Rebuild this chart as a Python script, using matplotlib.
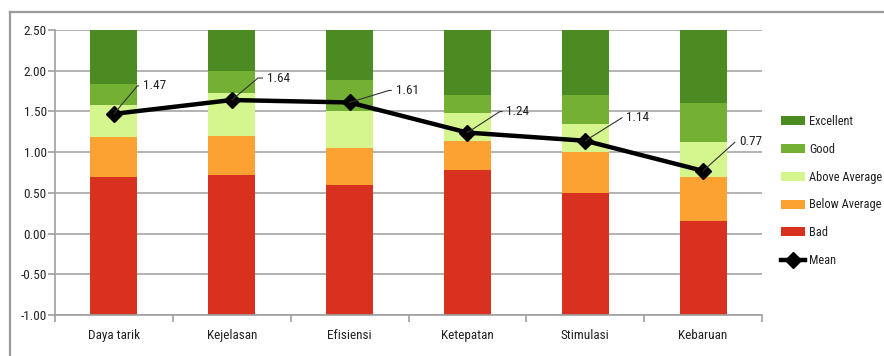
import matplotlib
matplotlib.use("Agg")
import matplotlib.pyplot as plt
from matplotlib.lines import Line2D
from matplotlib import font_manager
import numpy as np

# UEQ benchmark scales with the mean of each scale
categories = ["Daya tarik", "Kejelasan", "Efisiensi", "Ketepatan", "Stimulasi", "Kebaruan"]
bad_upper = [0.69, 0.72, 0.60, 0.78, 0.50, 0.16]
below_avg_upper = [1.18, 1.20, 1.05, 1.14, 1.00, 0.70]
above_avg_upper = [1.58, 1.73, 1.50, 1.48, 1.35, 1.12]
good_upper = [1.84, 2.00, 1.88, 1.70, 1.70, 1.60]
excellent_upper = [2.50, 2.50, 2.50, 2.50, 2.50, 2.50]
means = [1.47, 1.64, 1.61, 1.24, 1.14, 0.77]
y_ticks = [-1.0, -0.5, 0.0, 0.5, 1.0, 1.5, 2.0, 2.5]
axis_floor = -1.0

# label leader offsets in pixels (dx, dy) and leader angle
label_offsets = [(29, 28), (35, 22), (46, 12), (39, 21), (41, 23), (36, 29)]
leader_angles = [50, 40, 17, 33, 32, 42]

installed = {f.name for f in font_manager.fontManager.ttflist}
preferred = ["Liberation Sans Narrow", "DejaVu Sans Condensed", "Roboto Condensed", "Roboto"]
family = [f for f in preferred if f in installed] or ["DejaVu Sans"]
plt.rcParams["font.family"] = family[:1] + ["DejaVu Sans"]
condensed = family[0] != "Roboto"
fs = 9.5 if condensed else 8.6

fig = plt.figure(figsize=(8.84, 3.56), dpi=100)
ax = fig.add_axes([55 / 884, 1 - 315 / 356, (762 - 55) / 884, (315 - 30) / 356])

x = np.arange(len(categories))
width = 0.4
levels = [
    ("Bad", bad_upper, "#D9311F"),
    ("Below Average", below_avg_upper, "#FCA233"),
    ("Above Average", above_avg_upper, "#D5F58E"),
    ("Good", good_upper, "#73B033"),
    ("Excellent", excellent_upper, "#4C8A22"),
]
bottom = np.full(len(categories), axis_floor)
handles = {}
for name, upper, color in levels:
    upper = np.asarray(upper)
    h = ax.bar(x, upper - bottom, width, bottom=bottom, color=color,
               edgecolor="none", label=name, zorder=2)
    handles[name] = h
    bottom = upper

line, = ax.plot(x, means, color="black", lw=3.2, marker="D", markersize=8.5,
                zorder=4, label="Mean")
handles["Mean"] = line

for xi, m, (dx, dy), ang in zip(x, means, label_offsets, leader_angles):
    ax.annotate(f"{m:.2f}", xy=(xi, m), xytext=(dx, dy),
                textcoords="offset pixels", fontsize=fs, color="#222222",
                ha="left", va="center", zorder=5,
                arrowprops=dict(arrowstyle="-", color="#333333", lw=0.8,
                                shrinkA=1, shrinkB=0, relpos=(0, 0.5),
                                connectionstyle=f"angle,angleA=0,angleB={ang},rad=0"))

ax.set_xlim(-0.5, len(categories) - 0.5)
ax.set_ylim(axis_floor, 2.5)
ax.set_yticks(y_ticks)
ax.set_yticklabels([f"{v:.2f}" for v in y_ticks], fontsize=fs, color="#222222")
ax.set_xticks(x)
ax.set_xticklabels(categories, fontsize=fs, color="#222222")
ax.set_xticks(np.arange(len(categories) + 1) - 0.5, minor=True)
ax.tick_params(axis="x", which="major", length=0, pad=10)
ax.tick_params(axis="x", which="minor", length=5, color="#A0A0A0", width=1.2)
ax.tick_params(axis="y", length=5, color="#A0A0A0", width=1.2, pad=1)
ax.yaxis.grid(True, color="#A6A6A6", lw=1.2, zorder=0)
ax.set_axisbelow(True)
for side in ["top", "right"]:
    ax.spines[side].set_visible(False)
for side in ["left", "bottom"]:
    ax.spines[side].set_color("#A0A0A0")
    ax.spines[side].set_linewidth(1.2)

order = ["Excellent", "Good", "Above Average", "Below Average", "Bad", "Mean"]
fig.legend([handles[k] for k in order], order, loc="upper left",
           bbox_to_anchor=(776 / 884, 1 - 110 / 356), frameon=False,
           fontsize=fs - 0.6, handlelength=1.95, handleheight=0.75,
           labelspacing=1.2, handletextpad=0.3, borderaxespad=0,
           labelcolor="#222222")

# outer chart frame
fig.add_artist(Line2D([10 / 884, 1], [1 - 12 / 356, 1 - 12 / 356],
                      transform=fig.transFigure, color="#9A9A9A", lw=1.6))
fig.add_artist(Line2D([10 / 884, 10 / 884], [0, 1 - 12 / 356],
                      transform=fig.transFigure, color="#9A9A9A", lw=1.6))

fig.savefig("out.png", dpi=100, facecolor="white")
